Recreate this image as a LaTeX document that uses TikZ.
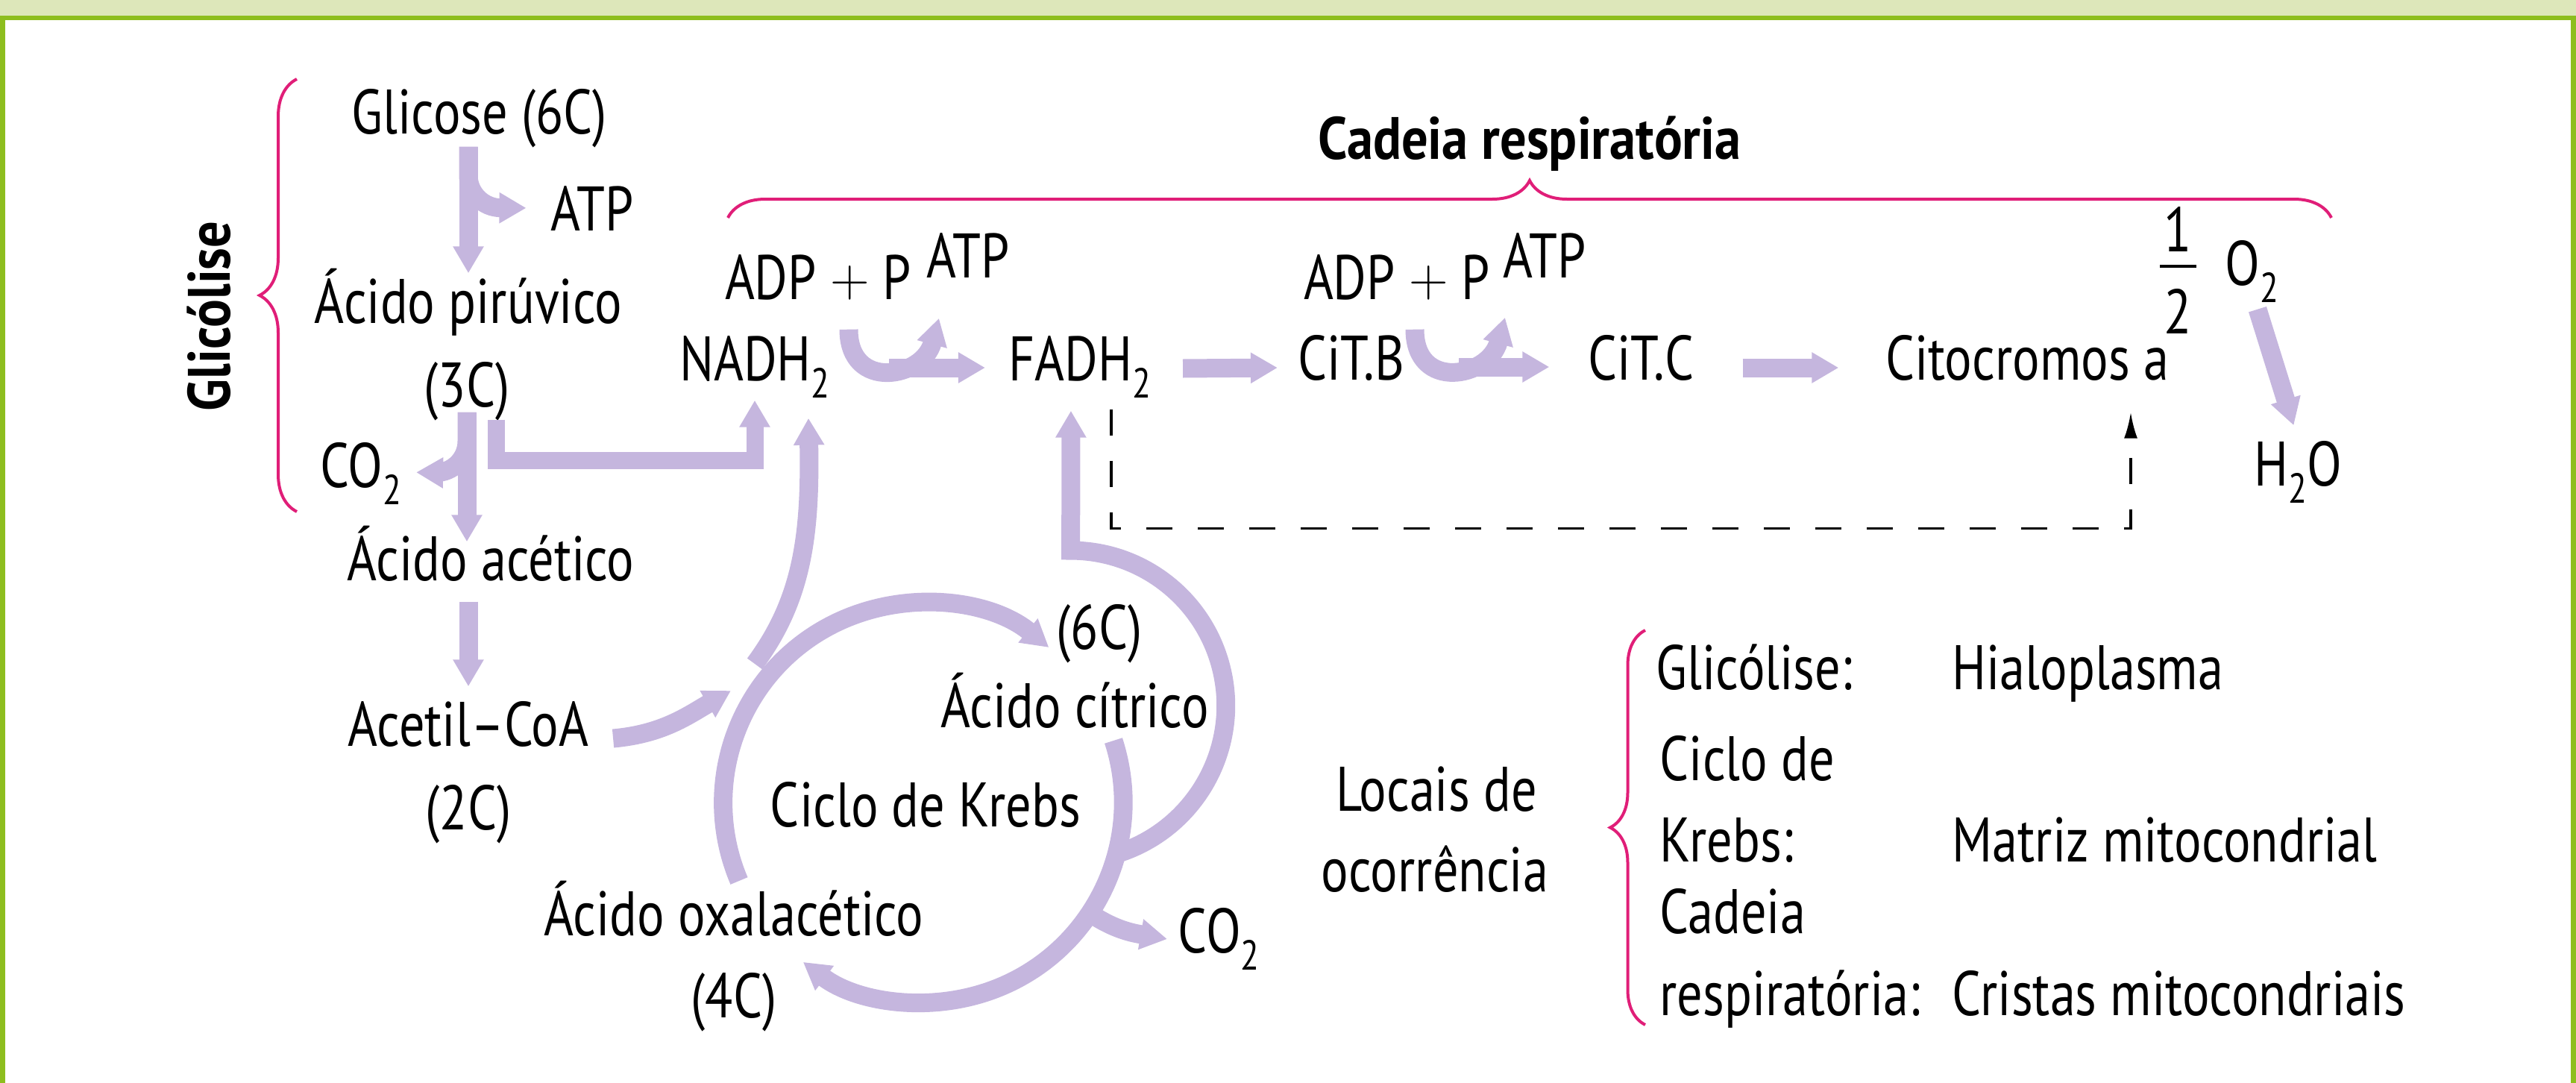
\documentclass[tikz,border=0pt]{standalone}
\usepackage{fontspec}
\setmainfont{PT Sans}[FakeStretch=0.81]
\newfontfamily\titlefont{PT Sans}[FakeStretch=0.88]
\usetikzlibrary{arrows.meta,decorations.pathreplacing}
\definecolor{lila}{RGB}{197,182,222}
\definecolor{rosa}{RGB}{224,30,120}
\definecolor{verde}{RGB}{141,190,30}
\definecolor{verdeclaro}{RGB}{221,231,186}
\newcommand{\subs}[1]{\raisebox{-0.23cm}{\fontsize{16}{16}\selectfont #1}}
\newcommand{\plus}{\raisebox{0.04cm}{\fontsize{20}{20}\selectfont$+$}}
\begin{document}
\begin{tikzpicture}[
		every node/.style={inner sep=0pt, text height=0.6cm, text depth=0pt, font=\fontsize{24}{28}\selectfont},
		title/.style={font=\titlefont\fontsize{22.8}{26}\selectfont\bfseries},
		flow/.style={draw=lila, line width=0.25cm, -{Triangle[width=0.39cm,length=0.36cm]}},
		dashflow/.style={draw=black, line width=0.035cm, dash pattern=on 0.35cm off 0.34cm, -{Latex[length=0.35cm,width=0.18cm]}},
		bracket/.style={draw=rosa, line width=0.04cm, decorate, decoration={brace, amplitude=0.5cm}}
	]
		\useasboundingbox (0,0) rectangle (34.54,-14.52);
		\fill[verdeclaro] (0,0) rectangle (34.54,-0.21);
		\fill[verde] (0,-0.21) rectangle (34.54,-0.27);
		\fill[verde] (0,-0.21) rectangle (0.07,-14.52);
		\fill[verde] (34.47,-0.21) rectangle (34.54,-14.52);

		% glicolise
		\node[anchor=base] (glic) at (6.43,-1.79) {Glicose (6C)};
		\node[anchor=base] (atpa) at (7.94,-3.09) {ATP};
		\node[anchor=base] (piru) at (6.28,-4.33) {Ácido pirúvico};
		\node[anchor=base] (tresc) at (6.26,-5.45) {(3C)};
		\node[anchor=base] (coa) at (4.84,-6.53) {CO\subs{2}};
		\node[anchor=base] (acet) at (6.58,-7.78) {Ácido acético};
		\node[anchor=base] (acetil) at (6.28,-10.00) {Acetil–CoA};
		\node[anchor=base] (doisc) at (6.28,-11.12) {(2C)};
		\node[title, rotate=90, anchor=base] (glicolise) at (3.08,-4.24) {Glicólise};
		\draw[bracket] (3.98,-6.86) -- (3.98,-1.06);

		\draw[flow, shorten <=0.17cm, shorten >=0.06cm] (glic.south -| piru.north) -- (piru.north);
		\draw[flow, shorten <=0.17cm, shorten >=0.32cm] (glic.south -| piru.north) -- ++(0,-0.55) arc[start angle=180, end angle=270, radius=0.44] -- (atpa.west);
		\draw[flow, shorten <=0.07cm, shorten >=-0.09cm] (tresc.south) -- (tresc.south |- acet.north);
		\draw[flow, shorten <=0.07cm, shorten >=0.19cm] (tresc.south) -- ++(0,-0.46) arc[start angle=0, end angle=-90, radius=0.42] -- ([yshift=-0.1cm]coa.east);
		\draw[flow, shorten <=0.28cm, shorten >=0.19cm] (acet.south -| acetil.north) -- (acetil.north);

		% cadeia respiratoria
		\node[title, anchor=base] (cadeia) at (20.51,-2.13) {Cadeia respiratória};
		\draw[bracket] (9.76,-2.92) -- (31.26,-2.92);
		\node[anchor=base] (adpa) at (10.97,-4.01) {ADP \plus{} P};
		\node[anchor=base] (atpb) at (12.98,-3.72) {ATP};
		\node[anchor=base] (nadh) at (10.12,-5.10) {NADH\subs{2}};
		\node[anchor=base] (fadh) at (14.48,-5.10) {FADH\subs{2}};
		\node[anchor=base] (adpb) at (18.73,-4.01) {ADP \plus{} P};
		\node[anchor=base] (atpc) at (20.71,-3.72) {ATP};
		\node[anchor=base] (citb) at (18.12,-5.09) {CiT.B};
		\node[anchor=base] (citc) at (22.00,-5.09) {CiT.C};
		\node[anchor=base] (cito) at (27.18,-5.09) {Citocromos a};
		\node[anchor=base] (um) at (29.20,-3.37) {1};
		\node[anchor=base] (dois) at (29.20,-4.47) {2};
		\draw[line width=0.04cm] (28.96,-3.57) -- (29.45,-3.57);
		\node[anchor=base west] (oxig) at (29.83,-3.82) {O\subs{2}};
		\node[anchor=base west] (agua) at (30.22,-6.51) {H\subs{2}O};

		\draw[flow, line width=0.23cm, shorten <=0.17cm, shorten >=0.26cm] ([xshift=0.39cm]tresc.south) -- ++(0,-0.72) -| (nadh.south);
		\draw[flow] ([shift={(0.79,-0.13)}]nadh.east) -- ([shift={(-0.31,-0.13)}]fadh.west);
		\draw[flow] ([shift={(0.41,-0.40)}]adpa.south) to[out=-90, in=-105, looseness=1.75] ([shift={(-0.39,-0.54)}]atpb.south);
		\draw[flow] ([shift={(0.42,-0.14)}]fadh.east) -- ([shift={(-0.27,-0.14)}]citb.west);
		\draw[flow] ([shift={(0.72,-0.13)}]citb.east) -- ([shift={(-0.51,-0.13)}]citc.west);
		\draw[flow] ([shift={(0.24,-0.40)}]adpb.south) to[out=-90, in=-105, looseness=1.75] ([shift={(-0.53,-0.53)}]atpc.south);
		\draw[flow] ([shift={(0.65,-0.14)}]citc.east) -- ([shift={(-0.62,-0.14)}]cito.west);
		\draw[flow] ([shift={(0.075,-0.32)}]oxig.south) -- ([shift={(-0.06,0.20)}]agua.north);
		\draw[dashflow] ([shift={(0.42,-0.38)}]fadh.south) -- ++(0,-1.6) -| ([shift={(1.39,-0.43)}]cito.south);

		% ciclo de krebs
		\node[anchor=base] (seisc) at (14.74,-8.70) {(6C)};
		\node[anchor=base] (citr) at (14.41,-9.75) {Ácido cítrico};
		\node[anchor=base] (krebs) at (12.41,-11.08) {Ciclo de Krebs};
		\node[anchor=base] (oxal) at (9.84,-12.54) {Ácido oxalacético};
		\node[anchor=base] (quatroc) at (9.84,-13.64) {(4C)};
		\node[anchor=base west] (cob) at (15.79,-12.77) {CO\subs{2}};
		\coordinate (kin) at (9.80,-9.26);
		\coordinate (kn) at (10.12,-8.90);
		\coordinate (kf) at (14.93,-11.46);
		\coordinate (kout) at (14.58,-12.22);

		\draw[flow] (9.91,-11.81) arc[start angle=203, end angle=51, radius=2.68];
		\draw[flow] (14.93,-9.93) arc[start angle=18, end angle=-127, radius=2.68];
		\draw[flow] ([shift={(0.32,-0.2)}]acetil.east) to[out=5, in=-150] (kin);
		\draw[flow] (kn) .. controls (10.75,-8.05) and (10.87,-7.2) .. ([shift={(0.72,-0.5)}]nadh.south);
		\draw[flow, shorten >=0.40cm] (kf) arc[start angle=-74, end angle=90, radius=2.08] -- ([xshift=-0.12cm]fadh.south);
		\draw[flow] (kout) to[out=-35, in=170] ([shift={(-0.14,-0.12)}]cob.west);

		% locais de ocorrencia
		\node[anchor=base] (locais) at (19.26,-10.87) {Locais de};
		\node[anchor=base] (ocorr) at (19.24,-11.95) {ocorrência};
		\draw[bracket, decoration={amplitude=0.47cm}] (22.06,-13.74) -- (22.06,-8.45);
		\node[anchor=base west] (lglic) at (22.20,-9.24) {Glicólise:};
		\node[anchor=base west] (lciclo) at (22.25,-10.46) {Ciclo de};
		\node[anchor=base west] (lkrebs) at (22.25,-11.55) {Krebs:};
		\node[anchor=base west] (lcad) at (22.25,-12.51) {Cadeia};
		\node[anchor=base west] (lresp) at (22.25,-13.61) {respiratória:};
		\node[anchor=base west] (hialo) at (26.17,-9.24) {Hialoplasma};
		\node[anchor=base west] (matriz) at (26.17,-11.55) {Matriz mitocondrial};
		\node[anchor=base west] (cristas) at (26.17,-13.61) {Cristas mitocondriais};
	\end{tikzpicture}
\end{document}
